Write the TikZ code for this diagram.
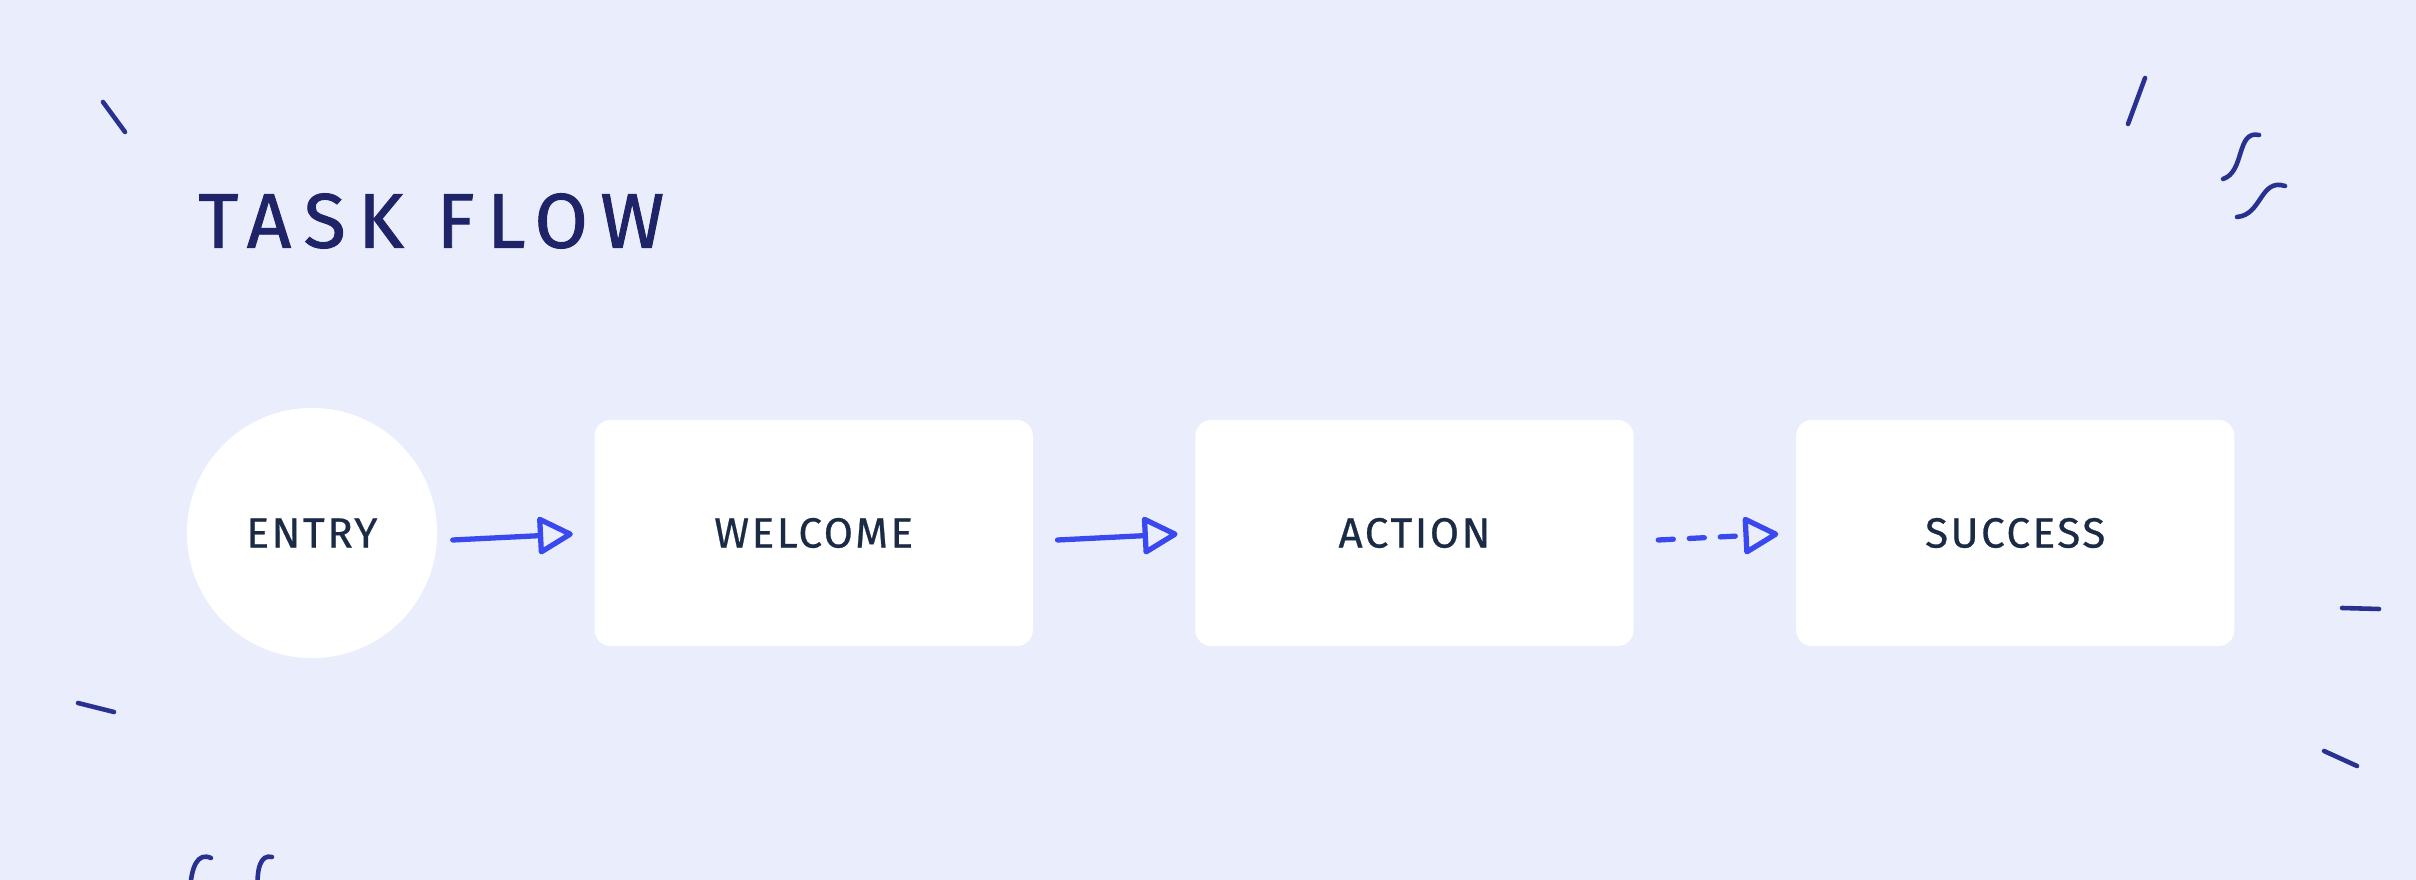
\documentclass[tikz,border=0pt]{standalone}
\usepackage{fontspec}
\setmainfont{Fira Sans}
\newfontfamily\titlefont[LetterSpace=16, FakeBold=1.2]{Fira Sans}
\newfontfamily\labelfont[LetterSpace=6, FakeBold=0.6]{Fira Sans}
\usetikzlibrary{arrows.meta, positioning}
\definecolor{paper}{HTML}{EAEEFC}
\definecolor{ink}{HTML}{1B2B45}
\definecolor{navy}{HTML}{1F2368}
\definecolor{flowblue}{HTML}{3A48F0}
\definecolor{scribble}{HTML}{283190}
\tikzset{
    stepbox/.style={rectangle, fill=white, rounded corners=0.16cm, minimum width=4.38cm, minimum height=2.26cm, align=center, text=ink, font=\labelfont\fontsize{12}{14}\selectfont},
    startnode/.style={circle, fill=white, minimum size=2.5cm, inner sep=0pt, align=center, text=ink, font=\labelfont\fontsize{12}{14}\selectfont},
    heading/.style={anchor=west, text=navy, font=\titlefont\fontsize{22}{26}\selectfont},
    flow/.style={draw=flowblue, line width=1.5pt, line cap=round, -{Triangle[open, length=0.38cm, width=0.4cm, round]}},
    dashflow/.style={flow, dash pattern=on 0.15cm off 0.16cm},
    squiggle/.style={draw=scribble, line width=1.3pt, line cap=round}
}
\begin{document}
\begin{tikzpicture}[x=0.01cm, y=-0.01cm, node distance=1.61cm]
    \fill[paper] (0,0) rectangle (2416,880);
    \clip (0,0) rectangle (2416,880);

    \node[heading] (title) at (186,221) {TASK FLOW};

    \node[startnode] (entry) at (312,533) {ENTRY};
    \node[stepbox, right=1.56cm of entry] (welcome) {WELCOME};
    \node[stepbox, right=of welcome] (action) {ACTION};
    \node[stepbox, right=of action] (success) {SUCCESS};

    \draw[flow] ([xshift=0.15cm, yshift=-0.07cm]entry.east) -- ([xshift=-0.21cm, yshift=-0.01cm]welcome.west);
    \draw[flow] ([xshift=0.24cm, yshift=-0.07cm]welcome.east) -- ([xshift=-0.17cm, yshift=-0.01cm]action.west);
    \draw[dashflow] ([xshift=0.24cm, yshift=-0.07cm]action.east) -- ([xshift=-0.17cm, yshift=-0.01cm]success.west);

    % scribbles round the edges
    \draw[squiggle] (103,102) -- (125,132);
    \draw[squiggle] (2145,78) -- (2128,124);
    \draw[squiggle] (2223,179) .. controls (2245,172) and (2236,130) .. (2259,135);
    \draw[squiggle] (2237,217) .. controls (2262,215) and (2260,178) .. (2285,186);
    \draw[squiggle] (78,703) -- (114,712);
    \draw[squiggle] (2342,608) -- (2379,609);
    \draw[squiggle] (2324,751) -- (2357,766);
    \draw[squiggle] (211,858) .. controls (198,852) and (191,866) .. (190,892);
    \draw[squiggle] (272,857) .. controls (261,854) and (256,868) .. (258,892);
\end{tikzpicture}
\end{document}
